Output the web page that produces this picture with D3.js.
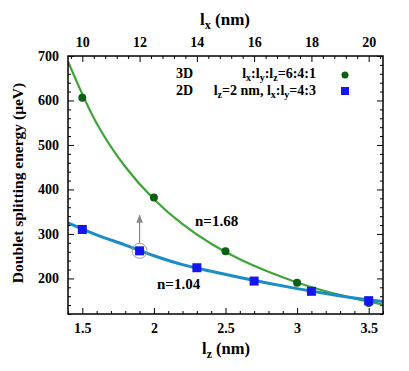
<!DOCTYPE html>
<html>
<head>
<meta charset="utf-8">
<script src="https://cdn.jsdelivr.net/npm/d3@7"></script>
<style>
  body { margin: 0; background: #fff; }
</style>
</head>
<body>
<div id="chart"></div>
<script>
// measured points
const lz3D = [1.5, 2.0, 2.5, 3.0, 3.5]
const e3D = [606, 382, 261, 190, 145]
const lz2D = [1.5, 1.9, 2.3, 2.7, 3.1, 3.5]
const e2D = [310, 262, 224, 194, 171, 150]

// fitted curves
const fitLz = [1.4, 1.6, 1.8, 2.0, 2.2, 2.4, 2.6, 2.8, 3.0, 3.2, 3.4, 3.6]
const fit3D = [688, 549, 451, 378, 322, 278, 243, 215, 191, 171, 155, 141]
const fit2D = [325, 298, 275, 251, 231, 216, 202, 189, 177, 166, 156, 148]

const xTicks = [1.5, 2, 2.5, 3, 3.5]
const topTicks = [10, 12, 14, 16, 18, 20]
const yTicks = [200, 300, 400, 500, 600, 700]

const W = 409, H = 371
const m = {l: 68, r: 26, t: 56, b: 57}
const FONT = "'Liberation Serif', 'Times New Roman', 'DejaVu Serif', serif"

const svg = d3.select("#chart").append("svg")
    .attr("width", W).attr("height", H)
    .attr("font-family", FONT)
    .attr("font-weight", "bold")

const x = d3.scaleLinear().domain([1.4, 3.6]).range([m.l, W - m.r])
const xTop = d3.scaleLinear().domain([9.5, 20.5]).range([m.l, W - m.r])
const y = d3.scaleLinear().domain([120, 700]).range([H - m.b, m.t])

const minorX = d3.range(14, 37).map(d => d / 10).filter(d => !xTicks.includes(d))
const minorTop = d3.range(24, 52).map(d => d * 0.4).filter(d => d > 9.5 && d < 20.5 && Math.abs(d - Math.round(d / 2) * 2) > 0.01)
const minorY = d3.range(120, 701, 20).filter(d => d % 100 != 0)

function styleAxis(g, size) {
    g.attr("font-family", FONT).attr("font-weight", "bold")
    g.select(".domain").remove()
    g.selectAll("line").attr("stroke", "#000").attr("stroke-width", 1)
    g.selectAll("text").style("font-size", size + "px")
        .style("font-family", FONT).style("font-weight", "bold").attr("fill", "#000")
}

// bottom
svg.append("g").attr("transform", `translate(0,${H - m.b})`)
    .call(d3.axisBottom(x).tickValues(xTicks).tickSize(-6).tickPadding(9).tickFormat(d3.format("")))
    .call(g => styleAxis(g, 14))
svg.append("g").attr("transform", `translate(0,${H - m.b})`)
    .call(d3.axisBottom(x).tickValues(minorX).tickSize(-3).tickFormat(""))
    .call(g => styleAxis(g, 14))

// top
svg.append("g").attr("transform", `translate(0,${m.t})`)
    .call(d3.axisTop(xTop).tickValues(topTicks).tickSize(-6).tickPadding(9))
    .call(g => styleAxis(g, 14))
svg.append("g").attr("transform", `translate(0,${m.t})`)
    .call(d3.axisTop(xTop).tickValues(minorTop).tickSize(-3).tickFormat(""))
    .call(g => styleAxis(g, 14))

// left + mirrored right
svg.append("g").attr("transform", `translate(${m.l},0)`)
    .call(d3.axisLeft(y).tickValues(yTicks).tickSize(-6).tickPadding(9))
    .call(g => styleAxis(g, 14))
svg.append("g").attr("transform", `translate(${m.l},0)`)
    .call(d3.axisLeft(y).tickValues(minorY).tickSize(-3).tickFormat(""))
    .call(g => styleAxis(g, 14))
svg.append("g").attr("transform", `translate(${W - m.r},0)`)
    .call(d3.axisRight(y).tickValues(yTicks).tickSize(-6).tickFormat(""))
    .call(g => styleAxis(g, 14))
svg.append("g").attr("transform", `translate(${W - m.r},0)`)
    .call(d3.axisRight(y).tickValues(minorY).tickSize(-3).tickFormat(""))
    .call(g => styleAxis(g, 14))

// clip for curves
svg.append("clipPath").attr("id", "plotclip")
  .append("rect")
    .attr("x", m.l).attr("y", m.t)
    .attr("width", W - m.l - m.r).attr("height", H - m.t - m.b)

const line = d3.line().x(d => x(d[0])).y(d => y(d[1])).curve(d3.curveCatmullRom)

svg.append("path")
    .datum(fitLz.map((d, i) => [d, fit3D[i]]))
    .attr("d", line)
    .attr("clip-path", "url(#plotclip)")
    .attr("fill", "none").attr("stroke", "#3da535").attr("stroke-width", 2.2)

svg.append("path")
    .datum(fitLz.map((d, i) => [d, fit2D[i]]))
    .attr("d", line)
    .attr("clip-path", "url(#plotclip)")
    .attr("fill", "none").attr("stroke", "#1a8cc8").attr("stroke-width", 3)

// arrow marking the 2D point at lz = 1.9 nm
svg.append("defs").append("marker")
    .attr("id", "arrowhead")
    .attr("viewBox", "0 0 10 10").attr("refX", 9).attr("refY", 5)
    .attr("markerWidth", 7).attr("markerHeight", 9).attr("orient", "auto")
  .append("path").attr("d", "M0,1 L10,5 L0,9 Z").attr("fill", "#888")

svg.append("line")
    .attr("x1", x(lz2D[1])).attr("y1", y(e2D[1]) - 8)
    .attr("x2", x(lz2D[1])).attr("y2", y(342))
    .attr("stroke", "#888").attr("stroke-width", 1.2)
    .attr("marker-end", "url(#arrowhead)")

svg.append("circle")
    .attr("cx", x(lz2D[1])).attr("cy", y(e2D[1])).attr("r", 7.5)
    .attr("fill", "none").attr("stroke", "#999").attr("stroke-width", 1)

// points
svg.selectAll(".p3d")
  .data(lz3D)
  .join("circle")
    .attr("class", "p3d")
    .attr("cx", d => x(d))
    .attr("cy", (d, i) => y(e3D[i]))
    .attr("r", 4)
    .attr("fill", "#0b5e12")

svg.selectAll(".p2d")
  .data(lz2D)
  .join("rect")
    .attr("class", "p2d")
    .attr("x", d => x(d) - 4.5)
    .attr("y", (d, i) => y(e2D[i]) - 4.5)
    .attr("width", 9).attr("height", 9)
    .attr("fill", "#1515f0")

// frame
svg.append("rect")
    .attr("x", m.l).attr("y", m.t)
    .attr("width", W - m.l - m.r).attr("height", H - m.t - m.b)
    .attr("fill", "none").attr("stroke", "#000").attr("stroke-width", 1.5)

// axis titles
function subLabel(xp, yp, main, sub, rest, size, rotate) {
    const t = svg.append("text")
        .attr("text-anchor", "middle")
        .style("font-size", size + "px")
        .attr("transform", `translate(${xp},${yp})` + (rotate ? " rotate(-90)" : ""))
    t.append("tspan").text(main)
    if (sub) t.append("tspan").attr("dy", 4).style("font-size", (size * 0.72) + "px").text(sub)
    if (rest) t.append("tspan").attr("dy", sub ? -4 : 0).text(rest)
    return t
}
subLabel(225, 25, "l", "x", " (nm)", 17)
subLabel(226, 354, "l", "z", " (nm)", 16.5)
subLabel(23, 183, "Doublet splitting energy (\u03bceV)", null, null, 15.5, true)

// legend
const lg = svg.append("g").style("font-size", "14px")
lg.append("text").attr("x", 176).attr("y", 78).text("3D")
lg.append("text").attr("x", 176).attr("y", 95).text("2D")

function legendRatio(yp, parts) {
    const t = lg.append("text").attr("x", 316).attr("y", yp).attr("text-anchor", "end")
    parts.forEach(p => {
        const s = t.append("tspan").text(p[0])
        if (p[1]) s.attr("dy", p[1])
        if (p[1] > 0) s.style("font-size", "10px")
    })
}
legendRatio(78, [["l"], ["x", 3], [":l", -3], ["y", 3], [":l", -3], ["z", 3], ["=6:4:1", -3]])
legendRatio(95, [["l"], ["z", 3], ["=2 nm, l", -3], ["x", 3], [":l", -3], ["y", 3], ["=4:3", -3]])

lg.append("circle").attr("cx", 345).attr("cy", 75).attr("r", 3.5).attr("fill", "#0b5e12")
lg.append("rect").attr("x", 341).attr("y", 87).attr("width", 8).attr("height", 8).attr("fill", "#1515f0")

// exponent labels
svg.append("text").attr("x", 195).attr("y", 226).style("font-size", "15px").text("n=1.68")
svg.append("text").attr("x", 157).attr("y", 289).style("font-size", "15px").text("n=1.04")
</script>
</body>
</html>
